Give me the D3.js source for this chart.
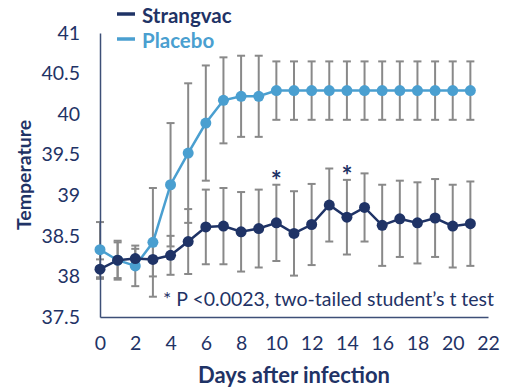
<!DOCTYPE html>
<html><head><meta charset="utf-8">
<script src="https://cdn.jsdelivr.net/npm/d3@7/dist/d3.min.js"></script>
<style>body{margin:0;background:#fff;} text{font-family:Lato,"Open Sans",sans-serif;}</style>
</head><body>
<svg id="c" width="509" height="387"></svg>
<script>
const days = [0,1,2,3,4,5,6,7,8,9,10,11,12,13,14,15,16,17,18,19,20,21];
const strangvac = [38.09,38.20,38.22,38.21,38.26,38.43,38.61,38.62,38.55,38.59,38.66,38.53,38.64,38.88,38.73,38.85,38.63,38.71,38.66,38.72,38.62,38.65];
const strangvacErr = [0.12,0.22,0.12,0.21,0.24,0.40,0.46,0.47,0.49,0.48,0.47,0.52,0.50,0.45,0.46,0.42,0.50,0.47,0.50,0.48,0.51,0.52];
const placebo = [38.33,38.20,38.13,38.42,39.13,39.52,39.89,40.17,40.22,40.22,40.29,40.29,40.29,40.29,40.29,40.29,40.29,40.29,40.29,40.29,40.29,40.29];
const placeboErr = [0.34,0.24,0.25,0.67,0.76,0.86,0.71,0.53,0.50,0.50,0.36,0.36,0.36,0.36,0.36,0.36,0.36,0.36,0.36,0.36,0.36,0.36];
const yTicks = [37.5,38,38.5,39,39.5,40,40.5,41];
const xTicks = [0,2,4,6,8,10,12,14,16,18,20,22];
const sigDays = [10,14];
const seriesNames = ["Strangvac","Placebo"];

const navy = "#1f3366", blue = "#4a9fd0", grey = "#898989";
const svg = d3.select("#c");
const x = d3.scaleLinear().domain([0,22]).range([100,488]);
const y = d3.scaleLinear().domain([37.5,41]).range([317,33]);

// error bars
function errBars(vals, errs) {
  const g = svg.append("g").attr("stroke", grey).attr("stroke-width", 2).attr("fill","none");
  days.forEach((d,i) => {
    const cx = x(d), t = y(vals[i]+errs[i]), b = y(vals[i]-errs[i]);
    g.append("line").attr("x1",cx).attr("x2",cx).attr("y1",t).attr("y2",b);
    g.append("line").attr("x1",cx-4).attr("x2",cx+4).attr("y1",t).attr("y2",t);
    g.append("line").attr("x1",cx-4).attr("x2",cx+4).attr("y1",b).attr("y2",b);
  });
}
errBars(placebo, placeboErr);
errBars(strangvac, strangvacErr);

// axes
const yAxis = svg.append("g").attr("transform","translate(100,0)")
  .call(d3.axisLeft(y).tickValues(yTicks).tickSize(0).tickPadding(20).tickFormat(d3.format("")));
const xAxis = svg.append("g").attr("transform","translate(0,317)")
  .call(d3.axisBottom(x).tickValues(xTicks).tickSize(0).tickPadding(19).tickFormat(d3.format("")));
[yAxis,xAxis].forEach(a=>{
  a.select(".domain").attr("stroke","#3d4f77").attr("stroke-width",1.5);
  a.selectAll("text").attr("fill",navy).attr("font-size",19.5).style("font-family","Lato,sans-serif");
});

const line = d3.line().x((d,i)=>x(days[i])).y(d=>y(d));
function series(vals, color) {
  svg.append("path").datum(vals).attr("d",line).attr("fill","none").attr("stroke",color).attr("stroke-width",2.5);
  svg.append("g").selectAll("circle").data(vals).join("circle")
    .attr("cx",(d,i)=>x(days[i])).attr("cy",d=>y(d)).attr("r",5.5).attr("fill",color);
}
series(placebo, blue);
series(strangvac, navy);

// significance asterisks
svg.append("g").selectAll("text").data(sigDays).join("text")
  .attr("x",d=>x(d)).attr("y",d=>y(strangvac[d]+strangvacErr[d])+5)
  .attr("text-anchor","middle").attr("fill",navy).attr("font-size",26).attr("font-weight","bold").text("*");

// legend
const legColors = [navy, blue];
seriesNames.forEach((n,i)=>{
  const ly = 14 + i*25;
  svg.append("line").attr("x1",117).attr("x2",135).attr("y1",ly).attr("y2",ly).attr("stroke",legColors[i]).attr("stroke-width",3.5);
  svg.append("text").attr("x",142).attr("y",ly+9).attr("fill",legColors[i]).attr("font-size",20.5).attr("font-weight","bold").text(n);
});

// footnote
svg.append("text").attr("x",163).attr("y",306).attr("fill",navy).attr("font-size",19.5).text("* P <0.0023, two-tailed student\u2019s t test");

// axis titles
svg.append("text").attr("x",294).attr("y",383).attr("text-anchor","middle").attr("fill",navy).attr("font-size",22).attr("font-weight","bold").text("Days after infection");
svg.append("text").attr("transform","translate(31,175) rotate(-90)").attr("text-anchor","middle").attr("fill",navy).attr("font-size",19.5).attr("font-weight","bold").text("Temperature");
</script>
</body></html>
